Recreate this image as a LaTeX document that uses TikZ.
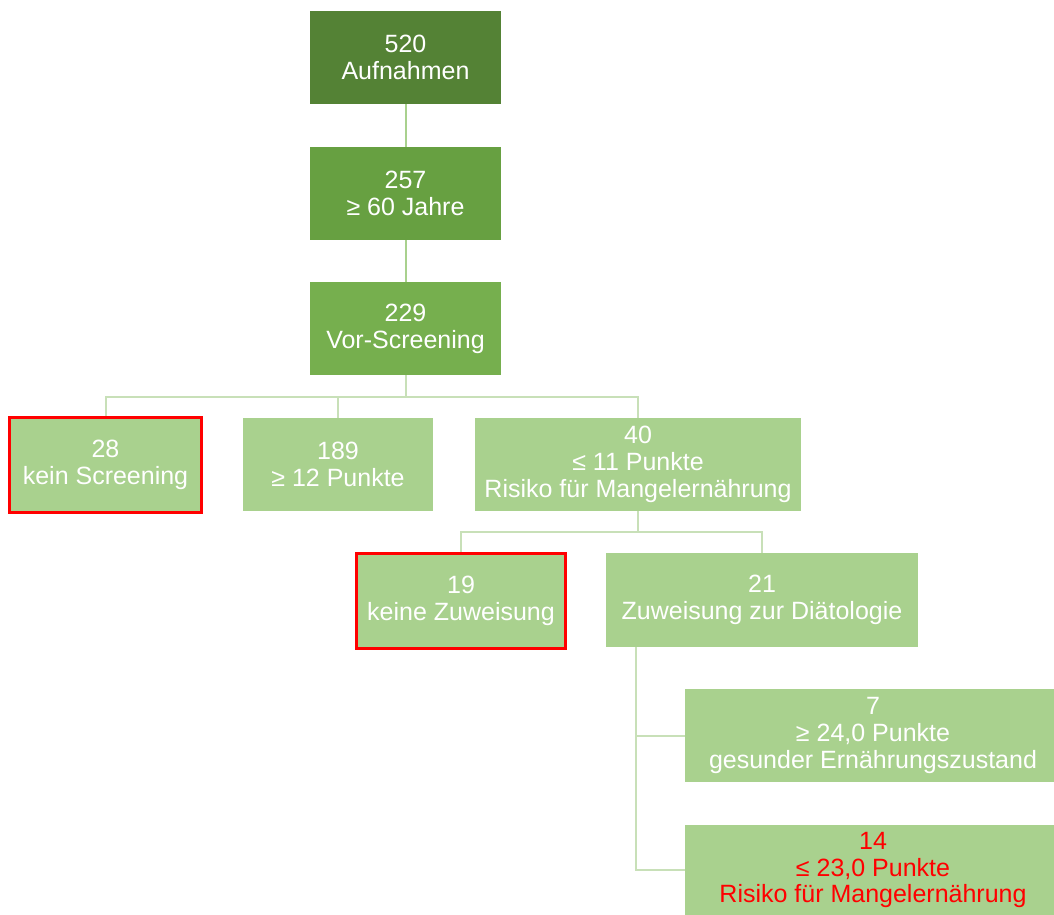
\documentclass[tikz,border=0pt]{standalone}
\usepackage{fontspec}
\setmainfont{Liberation Sans}
\definecolor{cA}{HTML}{548235}
\definecolor{cB}{HTML}{67A041}
\definecolor{cC}{HTML}{76AF4E}
\definecolor{cL}{HTML}{A9D18E}
\definecolor{lineA}{HTML}{A9D18E}
\definecolor{lineB}{HTML}{C8E0B8}
\definecolor{redc}{HTML}{FF0000}
\begin{document}
\begin{tikzpicture}[x=1pt,y=-1pt,
  box/.style={inner sep=0pt, align=center, text=white, font=\fontsize{25}{26.8}\selectfont},
  darkbox/.style={box, fill=cA},
  midbox/.style={box, fill=cB},
  medbox/.style={box, fill=cC},
  lightbox/.style={box, fill=cL},
  redbox/.style={box, fill=cL, draw=redc, line width=3pt},
  connA/.style={draw=lineA, line width=2pt},
  connB/.style={draw=lineB, line width=2pt}]
\useasboundingbox (0,0) rectangle (1054,914);
\node[darkbox, minimum width=191pt, minimum height=93pt] (b1) at (405.5,57.5) {520\\Aufnahmen};
\node[midbox, minimum width=191pt, minimum height=93pt] (b2) at (405.5,193.5) {257\\≥ 60 Jahre};
\node[medbox, minimum width=191pt, minimum height=93pt] (b3) at (405.5,328.5) {229\\Vor-Screening};
\node[redbox, minimum width=192pt, minimum height=95pt] (b4) at (105.5,465) {28\\kein Screening};
\node[lightbox, minimum width=190pt, minimum height=93pt] (b5) at (338,464.5) {189\\≥ 12 Punkte};
\node[lightbox, minimum width=326pt, minimum height=93pt] (b6) at (638,464.5) {40\\≤ 11 Punkte\\Risiko für Mangelernährung};
\node[redbox, minimum width=209pt, minimum height=95pt] (b7) at (461,601) {19\\keine Zuweisung};
\node[lightbox, minimum width=312pt, minimum height=94pt] (b8) at (762,600) {21\\Zuweisung zur Diätologie};
\node[lightbox, minimum width=376pt, minimum height=93pt] (b9) at (873,735.5) {7\\≥ 24,0 Punkte\\gesunder Ernährungszustand};
\node[lightbox, minimum width=376pt, minimum height=90pt, text=redc] (b10) at (873,870) {14\\≤ 23,0 Punkte\\Risiko für Mangelernährung};

\draw[connA] (b1.south) -- (b2.north);
\draw[connA] (b2.south) -- (b3.north);
\draw[connB] (b3.south) -- ++(0,22) coordinate (j1);
\draw[connB] (b4.north) |- (j1) -| (b6.north);
\draw[connB] (b5.north) -- (b5.north |- j1);
\draw[connB] (b6.south) -- ++(0,21) coordinate (j2);
\draw[connB] (b7.north) |- (j2) -| (b8.north);
\coordinate (j3) at ([xshift=30pt]b8.south west);
\draw[connB] (j3) |- (b9.west);
\draw[connB] (j3) |- (b10.west);
\end{tikzpicture}
\end{document}
